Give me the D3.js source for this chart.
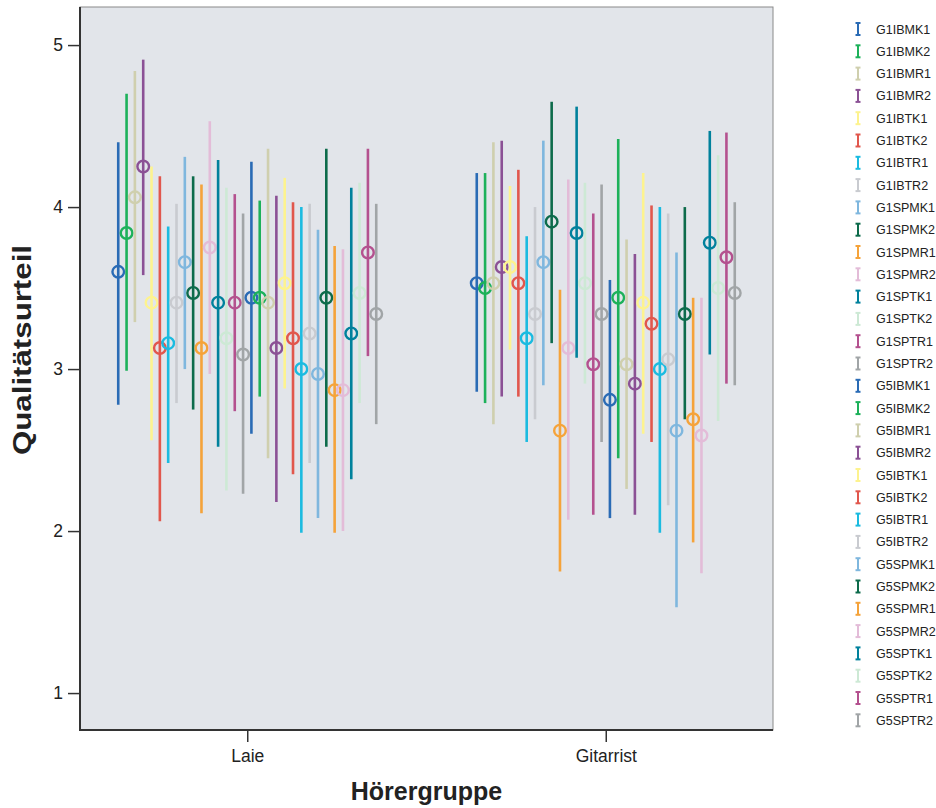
<!DOCTYPE html>
<html><head><meta charset="utf-8">
<script src="https://cdn.jsdelivr.net/npm/d3@7"></script>
<style>body{margin:0;background:#fff;font-family:"Liberation Sans",Arial,sans-serif;}</style>
</head><body><svg id="chart" width="936" height="808"></svg>
<script>
const categories = ["Laie", "Gitarrist"];
const seriesNames = ["G1IBMK1","G1IBMK2","G1IBMR1","G1IBMR2","G1IBTK1","G1IBTK2","G1IBTR1","G1IBTR2",
  "G1SPMK1","G1SPMK2","G1SPMR1","G1SPMR2","G1SPTK1","G1SPTK2","G1SPTR1","G1SPTR2",
  "G5IBMK1","G5IBMK2","G5IBMR1","G5IBMR2","G5IBTK1","G5IBTK2","G5IBTR1","G5IBTR2",
  "G5SPMK1","G5SPMK2","G5SPMR1","G5SPMR2","G5SPTK1","G5SPTK2","G5SPTR1","G5SPTR2"];
const baseColors = ["#2a6bb5","#1db15a","#cfcfae","#8b5195","#fdf38f","#e1574d","#1bbbe0","#c9cbd0",
  "#7fb7de","#0d6b4b","#f5a33a","#e3bcd8","#00819c","#cde9d5","#b4518f","#a1a5a7"];
const colors = baseColors.concat(baseColors);

const meanLaie = [3.60,3.84,4.06,4.25,3.41,3.13,3.16,3.41,3.66,3.47,3.13,3.75,3.41,3.19,3.41,3.09,
  3.44,3.44,3.41,3.13,3.53,3.19,3.00,3.22,2.97,3.44,2.87,2.87,3.22,3.47,3.72,3.34];
const lowLaie = [2.78,2.99,3.29,3.58,2.56,2.06,2.42,2.79,3.00,2.75,2.11,2.97,2.52,2.25,2.74,2.23,
  2.60,2.83,2.45,2.18,2.88,2.35,1.99,2.42,2.08,2.52,1.99,2.00,2.32,2.79,3.08,2.66];
const highLaie = [4.40,4.70,4.84,4.91,4.25,4.19,3.88,4.02,4.31,4.19,4.14,4.53,4.29,4.12,4.08,3.96,
  4.28,4.04,4.36,4.07,4.18,4.03,4.00,4.02,3.86,4.36,3.76,3.74,4.12,4.15,4.36,4.02];
const meanGit = [3.53,3.50,3.53,3.63,3.63,3.53,3.19,3.34,3.66,3.91,2.62,3.13,3.84,3.53,3.03,3.34,
  2.81,3.44,3.03,2.91,3.41,3.28,3.00,3.06,2.62,3.34,2.69,2.59,3.78,3.50,3.69,3.47];
const lowGit = [2.86,2.79,2.66,2.83,3.12,2.83,2.55,2.69,2.90,3.16,1.75,2.07,3.07,2.91,2.10,2.55,
  2.08,2.45,2.26,2.10,2.60,2.55,1.99,2.16,1.53,2.69,1.93,1.74,3.09,2.68,2.91,2.90];
const highGit = [4.21,4.21,4.40,4.41,4.13,4.23,3.82,4.00,4.41,4.65,3.49,4.17,4.62,4.15,3.96,4.14,
  3.55,4.42,3.80,3.71,4.21,4.01,4.00,3.96,3.72,4.00,3.44,3.44,4.47,4.32,4.46,4.03];
const yTicks = [1,2,3,4,5];

const svg = d3.select("#chart");
const L = 80, R = 773, T = 7, B = 730;
const y = d3.scaleLinear().domain([0.772, 5.235]).range([B, T]);
const x = d3.scalePoint().domain(categories).range([L, R]).padding(0.4665);
const dx = d3.scaleLinear().domain([0, seriesNames.length - 1]).range([-129, 129]);

// plot background
svg.append("rect").attr("x", L).attr("y", T).attr("width", R - L).attr("height", B - T)
  .attr("fill", "#e2e5ea").attr("stroke", "#8a8a8a").attr("stroke-width", 1);

const data = [];
categories.forEach((c, ci) => {
  const m = ci === 0 ? meanLaie : meanGit, lo = ci === 0 ? lowLaie : lowGit, hi = ci === 0 ? highLaie : highGit;
  seriesNames.forEach((s, i) => data.push({cat: c, i, mean: m[i], lo: lo[i], hi: hi[i]}));
});

const g = svg.append("g");
data.forEach(d => {
  const cx = x(d.cat) + dx(d.i);
  g.append("line").attr("x1", cx).attr("x2", cx).attr("y1", y(d.lo)).attr("y2", y(d.hi))
    .attr("stroke", colors[d.i]).attr("stroke-width", 2.6);
  g.append("circle").attr("cx", cx).attr("cy", y(d.mean)).attr("r", 5.8)
    .attr("fill", "none").attr("stroke", colors[d.i]).attr("stroke-width", 2.4);
});

// axes
const yAxis = svg.append("g").attr("transform", `translate(${L},0)`)
  .call(d3.axisLeft(y).tickValues(yTicks).tickSize(12).tickPadding(5).tickFormat(d3.format("d")));
yAxis.select(".domain").remove();
yAxis.selectAll("line").attr("stroke", "#333").attr("stroke-width", 1.5);
yAxis.selectAll("text").attr("font-size", 17.5).attr("fill", "#222").attr("font-family", "Liberation Sans, Arial, sans-serif");

const xAxis = svg.append("g").attr("transform", `translate(0,${B})`)
  .call(d3.axisBottom(x).tickSize(12).tickPadding(8));
xAxis.select(".domain").remove();
xAxis.selectAll("line").attr("stroke", "#333").attr("stroke-width", 1.5);
xAxis.selectAll("text").attr("font-size", 17.5).attr("fill", "#222").attr("font-family", "Liberation Sans, Arial, sans-serif");

// dark left & bottom frame
svg.append("line").attr("x1", L).attr("x2", L).attr("y1", T).attr("y2", B).attr("stroke", "#333").attr("stroke-width", 2);
svg.append("line").attr("x1", L - 1).attr("x2", R).attr("y1", B).attr("y2", B).attr("stroke", "#333").attr("stroke-width", 2);

// axis titles
svg.append("text").attr("x", (L + R) / 2).attr("y", 800).attr("text-anchor", "middle")
  .attr("font-size", 25).attr("font-weight", "bold").attr("fill", "#222").text("Hörergruppe");
svg.append("text").attr("transform", `translate(31,350) rotate(-90)`).attr("text-anchor", "middle")
  .attr("font-size", 25).attr("font-weight", "bold").attr("fill", "#222")
  .attr("textLength", 210).attr("lengthAdjust", "spacingAndGlyphs").text("Qualitätsurteil");

// legend
const leg = svg.append("g").attr("transform", "translate(858,29)");
seriesNames.forEach((s, i) => {
  const row = leg.append("g").attr("transform", `translate(0,${i * 22.3})`);
  row.append("line").attr("x1", 0).attr("x2", 0).attr("y1", -6).attr("y2", 6).attr("stroke", colors[i]).attr("stroke-width", 2);
  row.append("line").attr("x1", -2.5).attr("x2", 2.5).attr("y1", -6).attr("y2", -6).attr("stroke", colors[i]).attr("stroke-width", 2);
  row.append("line").attr("x1", -2.5).attr("x2", 2.5).attr("y1", 6).attr("y2", 6).attr("stroke", colors[i]).attr("stroke-width", 2);
  row.append("text").attr("x", 18).attr("y", 4.5).attr("font-size", 12.5).attr("fill", "#222").text(s);
});
</script></body></html>
